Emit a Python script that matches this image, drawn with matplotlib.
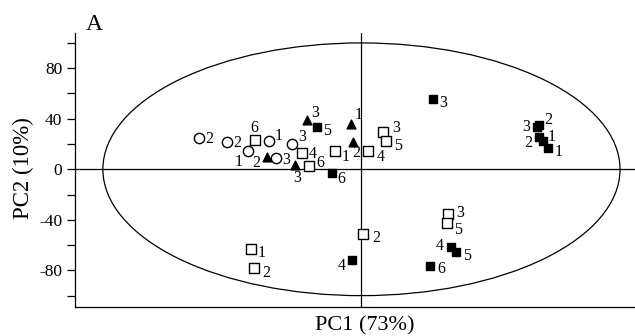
import matplotlib
matplotlib.use("Agg")
import matplotlib.pyplot as plt
from matplotlib.patches import Ellipse

plt.rcParams['font.family'] = ['Liberation Serif', 'DejaVu Serif']
plt.rcParams['axes.unicode_minus'] = False

# Open circles
oc_x = [-163, -135, -93, -70, -114, -86]
oc_y = [25.0, 21.8, 22.6, 20.2, 14.7, 9.1]
oc_lab = ['2', '2', '1', '3', '1', '3']
oc_off = [(11, -1), (11, -1), (10, 5), (11, 7), (-9, -11), (11, -2)]

# Filled triangles
ft_x = [-95, -55, -67, -10, -8]
ft_y = [9.9, 39.3, 3.6, 36.1, 21.8]
ft_lab = ['2', '3', '3', '1', '2']
ft_off = [(-10, -6), (9, 7), (3, -13), (7, 9), (3, -11)]

# Open squares
os_x = [-107, -60, -53, -26, 7, 22, 25, 87, 86, 2, -111, -108]
os_y = [23.4, 13.1, 2.8, 14.7, 14.7, 29.8, 22.6, -35.3, -42.5, -51.2, -63.1, -78.2]
os_lab = ['6', '4', '6', '1', '4', '3', '5', '3', '5', '2', '1', '2']
os_off = [(0, 12), (11, -1), (12, 3), (10, -6), (12, -6), (13, 4), (12, -5),
          (12, 1), (11, -7), (13, -4), (11, -4), (13, -5)]

# Filled squares
fs_x = [-45, -30, 72, 176, 178, 178, 182, 187, 90, 95, 69, -9]
fs_y = [33.7, -2.8, 56.0, 33.7, 35.3, 25.8, 22.6, 17.1, -61.5, -65.5, -76.6, -71.8]
fs_lab = ['5', '6', '3', '3', '2', '2', '1', '1', '4', '5', '6', '4']
fs_off = [(11, -4), (10, -6), (10, -4), (-11, 0), (9, 5), (-11, -6), (8, 4),
          (10, -4), (-12, 1), (11, -4), (11, -3), (-11, -6)]

fig = plt.figure(figsize=(6.35, 3.36), dpi=100)
ax = fig.add_axes([0.118, 0.0863, 0.882, 0.816])
ax.set_xlim(-287, 274)
ax.set_ylim(-109, 108)

ax.add_patch(Ellipse((0, 0), 518, 200, fill=False, ec='black', lw=0.9))
ax.axhline(0, color='black', lw=0.9)
ax.axvline(0, color='black', lw=0.9)

ax.scatter(oc_x, oc_y, s=55, marker='o', facecolors='white', edgecolors='black', linewidths=1.0, zorder=3)
ax.scatter(ft_x, ft_y, s=40, marker='^', color='black', zorder=3)
ax.scatter(os_x, os_y, s=60, marker='s', facecolors='white', edgecolors='black', linewidths=1.0, zorder=3)
ax.scatter(fs_x, fs_y, s=40, marker='s', color='black', zorder=3)

def lab(xs, ys, ls, offs):
    for x, y, l, (dx, dy) in zip(xs, ys, ls, offs):
        ax.annotate(l, (x, y), xytext=(dx, dy), textcoords='offset pixels',
                    ha='center', va='center', fontsize=11.5, zorder=4)

lab(oc_x, oc_y, oc_lab, oc_off)
lab(ft_x, ft_y, ft_lab, ft_off)
lab(os_x, os_y, os_lab, os_off)
lab(fs_x, fs_y, fs_lab, fs_off)

ax.spines['top'].set_visible(False)
ax.spines['right'].set_visible(False)
for s in ('left', 'bottom'):
    ax.spines[s].set_linewidth(0.9)
ax.set_xticks([])
ax.set_yticks([-80, -40, 0, 40, 80])
ax.set_yticks([-100, -60, -20, 20, 60, 100], minor=True)
ax.tick_params(axis='y', which='both', direction='out', length=6, width=0.9, labelsize=12.5, pad=3)

ax.set_xlabel('PC1 (73%)', fontsize=16)
ax.xaxis.set_label_coords((365 - 75) / 560, -0.035)
ax.set_ylabel('PC2 (10%)', fontsize=16.5)
ax.yaxis.set_label_coords((34 - 75) / 560, 0.505)

fig.text(94 / 635, 1 - 25 / 336, 'A', fontsize=17, ha='center', va='center')

fig.savefig('out.png', dpi=100)
